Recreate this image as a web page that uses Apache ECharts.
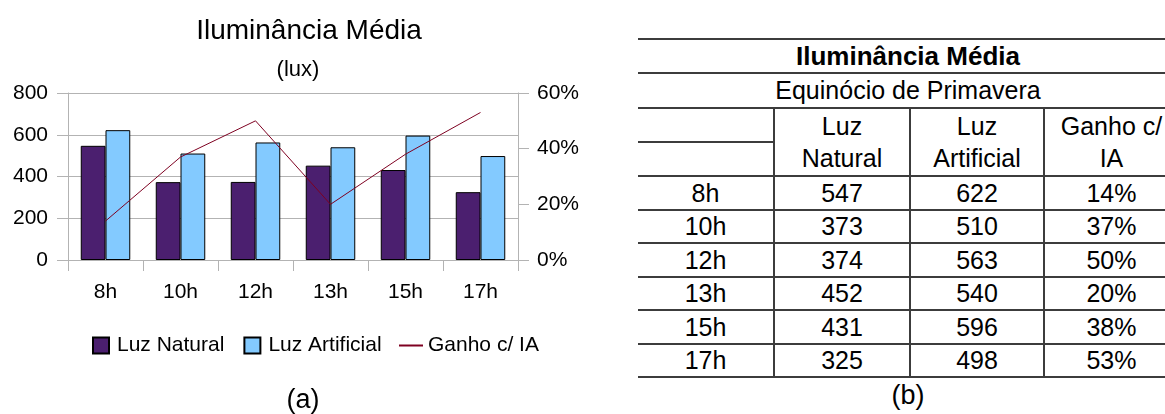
<!DOCTYPE html>
<html>
<head>
<meta charset="utf-8">
<title>Iluminância Média</title>
<script src="https://cdn.jsdelivr.net/npm/echarts@6/dist/echarts.min.js"></script>
<style>
	html, body { margin: 0; padding: 0; background: #fff; }
	body { width: 1165px; height: 414px; overflow: hidden; position: relative; font-family: "Liberation Sans", Arial, sans-serif; color: #000; }
	#grafico { position: absolute; left: 0; top: 0; width: 620px; height: 414px; }
	#tabela { position: absolute; left: 638px; top: 38px; width: 540px; border-top: 2px solid #3c3c3c; font-size: 25px; }
	#tabela .linha { display: flex; box-sizing: border-box; border-bottom: 2px solid #3c3c3c; }
	#tabela .cel { box-sizing: border-box; text-align: center; display: flex; align-items: center; justify-content: center; }
	#tabela .c1 { flex: 0 0 135px; }
	#tabela .c2 { flex: 0 0 136px; border-left: 2px solid #3c3c3c; }
	#tabela .c3 { flex: 0 0 134px; border-left: 2px solid #3c3c3c; }
	#tabela .c4 { flex: 0 0 135px; border-left: 2px solid #3c3c3c; }
	#tabela .cab { line-height: 32px; }
	#legendaB { position: absolute; left: 638px; top: 381px; width: 540px; text-align: center; font-size: 27px; line-height: 28px; }
</style>
</head>
<body>
<div id="grafico"></div>
<div id="tabela"></div>
<div id="legendaB">(b)</div>
<script>
// dados medidos - equinócio de primavera
var horas = ['8h', '10h', '12h', '13h', '15h', '17h'];
var luzNatural = [547, 373, 374, 452, 431, 325];
var luzArtificial = [622, 510, 563, 540, 596, 498];
var ganhoIA = [14, 37, 50, 20, 38, 53];

var titulo = 'Iluminância Média';
var subtitulo = '(lux)';
var periodo = 'Equinócio de Primavera';
var colunas = ['Luz<br>Natural', 'Luz<br>Artificial', 'Ganho c/<br>IA'];

// tabela (b)
function montaTabela() {
	var alturas = [34, 33, 34, 33, 34, 33];
	var html = '';
	html += '<div class="linha" style="height:34px"><div class="cel" style="flex:1;font-weight:bold;font-size:26px;">' + titulo + '</div></div>';
	html += '<div class="linha" style="height:35px"><div class="cel" style="flex:1;">' + periodo + '</div></div>';
	html += '<div class="linha" style="height:68px">';
	html += '<div class="c1" style="display:flex;flex-direction:column;">'
		+ '<div style="height:34px;box-sizing:border-box;border-bottom:2px solid #3c3c3c;"></div><div style="flex:1"></div></div>';
	for (var i = 0; i < colunas.length; i++) {
		html += '<div class="cel cab c' + (i + 2) + '">' + colunas[i] + '</div>';
	}
	html += '</div>';
	for (var j = 0; j < horas.length; j++) {
		html += '<div class="linha" style="height:' + alturas[j] + 'px">'
			+ '<div class="cel c1">' + horas[j] + '</div>'
			+ '<div class="cel c2">' + luzNatural[j] + '</div>'
			+ '<div class="cel c3">' + luzArtificial[j] + '</div>'
			+ '<div class="cel c4">' + ganhoIA[j] + '%</div>'
			+ '</div>';
	}
	document.getElementById('tabela').innerHTML = html;
}
montaTabela();

// grafico (a)
var chart = echarts.init(document.getElementById('grafico'));
var corEixo = '#b3b3b3';
var fonte = '"Liberation Sans", Arial, sans-serif';

var option = {
	animation: false,
	textStyle: { fontFamily: fonte, color: '#000' },
	graphic: [
		{ type: 'text', x: 309, y: 31, style: { text: titulo, fontSize: 28, fontFamily: fonte, fill: '#000', textAlign: 'center', textVerticalAlign: 'middle', align: 'center', verticalAlign: 'middle' } },
		{ type: 'text', x: 298, y: 70, style: { text: subtitulo, fontSize: 22, fontFamily: fonte, fill: '#000', textAlign: 'center', textVerticalAlign: 'middle', align: 'center', verticalAlign: 'middle' } },
		{ type: 'text', x: 303, y: 401, style: { text: '(a)', fontSize: 27, fontFamily: fonte, fill: '#000', textAlign: 'center', textVerticalAlign: 'middle', align: 'center', verticalAlign: 'middle' } }
	],
	legend: [{
		left: 87,
		top: 330,
		icon: 'rect',
		itemWidth: 16,
		itemHeight: 16,
		itemGap: 19,
		textStyle: { fontSize: 21, color: '#000', padding: [0, 0, 0, 3] },
		data: ['Luz Natural', 'Luz Artificial']
	}, {
		left: 394,
		top: 330,
		icon: 'rect',
		itemWidth: 24,
		itemHeight: 2,
		textStyle: { fontSize: 21, color: '#000' },
		data: ['Ganho c/ IA']
	}],
	grid: {
		left: 68,
		top: 93,
		width: 450,
		height: 167,
		containLabel: false,
		outerBoundsMode: 'none'
	},
	xAxis: {
		type: 'category',
		data: horas,
		axisLine: { lineStyle: { color: corEixo } },
		axisTick: { show: true, length: 11, lineStyle: { color: corEixo } },
		axisLabel: { fontSize: 21, color: '#000', margin: 22 }
	},
	yAxis: [{
		type: 'value',
		position: 'left',
		min: 0,
		max: 800,
		interval: 200,
		axisLine: { show: true, lineStyle: { color: corEixo } },
		axisTick: { show: true, length: 11, lineStyle: { color: corEixo } },
		splitLine: { show: true, lineStyle: { color: corEixo } },
		axisLabel: { fontSize: 21, color: '#000', margin: 20 }
	}, {
		type: 'value',
		position: 'right',
		min: 0,
		max: 60,
		interval: 20,
		axisLine: { show: true, lineStyle: { color: corEixo } },
		axisTick: { show: true, length: 11, lineStyle: { color: corEixo } },
		splitLine: { show: false },
		axisLabel: { fontSize: 21, color: '#000', margin: 19, formatter: '{value}%' }
	}],
	series: [{
		name: 'Luz Natural',
		type: 'bar',
		data: luzNatural,
		barGap: '0%',
		barCategoryGap: '34%',
		itemStyle: { color: '#4b1f6f', borderColor: '#000', borderWidth: 1 }
	}, {
		name: 'Luz Artificial',
		type: 'bar',
		data: luzArtificial,
		barGap: '0%',
		barCategoryGap: '34%',
		itemStyle: { color: '#83caff', borderColor: '#000', borderWidth: 1 }
	}, {
		name: 'Ganho c/ IA',
		type: 'line',
		yAxisIndex: 1,
		data: ganhoIA,
		symbol: 'none',
		z: 5,
		itemStyle: { color: '#7e0021' },
		lineStyle: { color: '#7e0021', width: 1 }
	}]
};
chart.setOption(option);
</script>
</body>
</html>
